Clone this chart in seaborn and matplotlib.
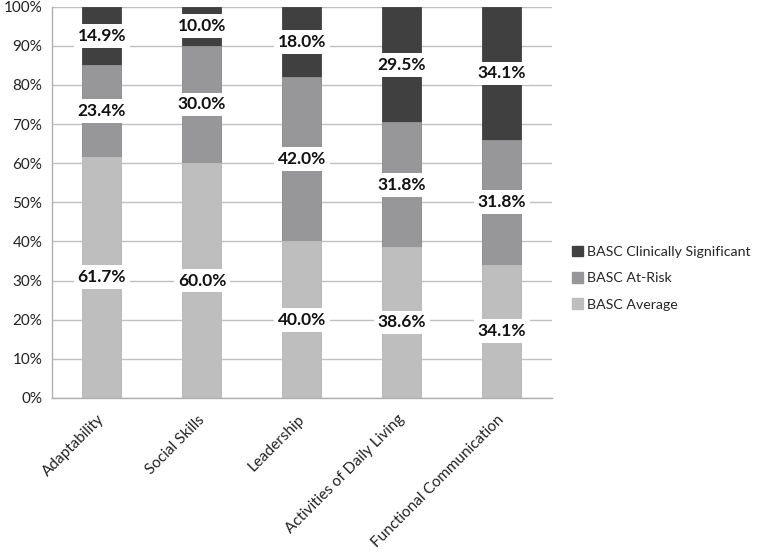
import matplotlib
matplotlib.use("Agg")
import matplotlib.pyplot as plt
import matplotlib.patches as mpatches
import numpy as np
import pandas as pd
import seaborn as sns

# Data (percent of children per BASC band)
categories = ["Adaptability", "Social Skills", "Leadership",
              "Activities of Daily Living", "Functional Communication"]
average = [61.7, 60.0, 40.0, 38.6, 34.1]
at_risk = [23.4, 30.0, 42.0, 31.8, 31.8]
clin_sig = [14.9, 10.0, 18.0, 29.5, 34.1]

series_names = ["BASC Average", "BASC At-Risk", "BASC Clinically Significant"]
colors = ["#bebebe", "#979799", "#404040"]

sns.set_theme(style="white")
plt.rcParams["font.family"] = ["Lato", "DejaVu Sans"]

df = pd.DataFrame({"cat": categories, "avg": average,
                   "risk": at_risk, "clin": clin_sig})
df["top_avg"] = df["avg"]
df["top_risk"] = df["avg"] + df["risk"]
df["top_clin"] = df["top_risk"] + df["clin"]

fig = plt.figure(figsize=(7.68, 5.52), dpi=100)
ax = fig.add_axes([0.0677, 0.279, 0.651, 0.709])

# draw cumulative layers, tallest first
for col, c in zip(["top_clin", "top_risk", "top_avg"], colors[::-1]):
    sns.barplot(data=df, x="cat", y=col, color=c, width=0.39, ax=ax,
                edgecolor=c, linewidth=0.6, saturation=1, zorder=2)

# data labels in white boxes
bottoms = {"avg": np.zeros(len(df)), "risk": df["avg"].values,
           "clin": df["top_risk"].values}
for key in ["avg", "risk", "clin"]:
    vals = df[key].values
    for i, v in enumerate(vals):
        ax.text(i, bottoms[key][i] + v / 2, f"{v:.1f}%", ha="center", va="center",
                fontsize=12.5, fontweight="bold", color="#111111", zorder=5,
                bbox=dict(boxstyle="square,pad=0.22", fc="white", ec="none"))

ax.set_xlim(-0.5, len(categories) - 0.5)
ax.set_ylim(0, 100)
ax.set_yticks(np.arange(0, 101, 10))
ax.set_yticklabels([f"{t}%" for t in range(0, 101, 10)], fontsize=11, color="#222222")
ax.yaxis.grid(True, color="#c0c0c0", linewidth=1, zorder=0)
ax.set_axisbelow(True)

ax.set_xticks(range(len(categories)))
ax.set_xticklabels(categories, rotation=45, ha="right", va="center",
                   rotation_mode="anchor", fontsize=11, color="#222222")
ax.set_xticks(np.arange(-0.5, len(categories)), minor=True)
ax.tick_params(axis="x", which="major", length=0, pad=14)
ax.tick_params(axis="x", which="minor", length=5, color="#b0b0b0", width=1)
ax.tick_params(axis="y", length=4, color="#c0c0c0", width=1, pad=3)
ax.set_xlabel("")
ax.set_ylabel("")

for s in ["top", "right"]:
    ax.spines[s].set_visible(False)
for s in ["left", "bottom"]:
    ax.spines[s].set_color("#b0b0b0")
    ax.spines[s].set_linewidth(1)

handles = [mpatches.Patch(color=c, label=n) for c, n in zip(colors, series_names)][::-1]
fig.legend(handles=handles, loc="center left", bbox_to_anchor=(0.745, 0.496),
           frameon=False, fontsize=10.2, handlelength=0.75, handleheight=0.75,
           handletextpad=0.3, labelspacing=1.0, borderpad=0, borderaxespad=0)

fig.savefig("out.png", dpi=100)
